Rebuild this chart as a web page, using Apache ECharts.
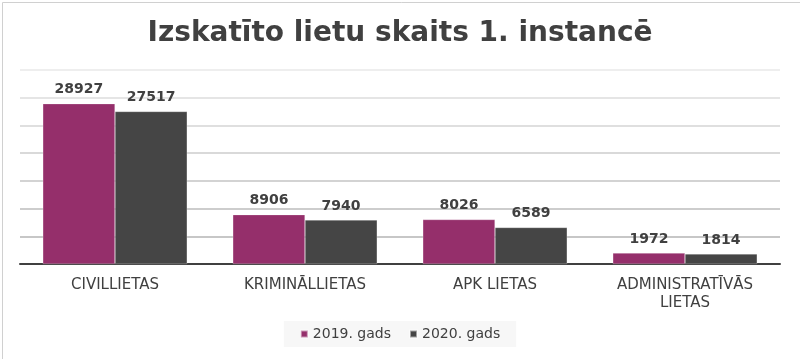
<!DOCTYPE html>
<html>
<head>
<meta charset="utf-8">
<script src="https://cdn.jsdelivr.net/npm/echarts@6/dist/echarts.min.js"></script>
<style>
html,body{margin:0;padding:0;background:#fff;}
#chart{width:800px;height:359px;}
</style>
</head>
<body>
<div id="chart"></div>
<script>
const categories = ['CIVILLIETAS', 'KRIMINĀLLIETAS', 'APK LIETAS', 'ADMINISTRATĪVĀS\nLIETAS'];
const seriesNames = ['2019. gads', '2020. gads'];
const values2019 = [28927, 8906, 8026, 1972];
const values2020 = [27517, 7940, 6589, 1814];
const titleText = 'Izskatīto lietu skaits 1. instancē';

const chart = echarts.init(document.getElementById('chart'), null, {renderer: 'canvas'});
const font = '"DejaVu Sans", Verdana, sans-serif';
const labelStyle = {
  show: true, position: 'top', distance: 7,
  fontFamily: font, fontSize: 14, fontWeight: 'bold', color: '#404040'
};
chart.setOption({
  animation: false,
  backgroundColor: '#fff',
  graphic: [{
    type: 'rect', left: 0, top: 0, z: 100,
    shape: {x: 0.5, y: 0.5, width: 799, height: 358},
    style: {fill: 'none', stroke: '#d0d0d0', lineWidth: 1}
  }],
  title: {
    text: titleText, left: 'center', top: 15,
    textStyle: {fontFamily: font, fontSize: 28, fontWeight: 'bold', color: '#404040'}
  },
  legend: {
    data: seriesNames, bottom: 12, left: 'center',
    itemWidth: 7, itemHeight: 7, itemGap: 18, itemTextGap: 4,
    icon: 'rect',
    backgroundColor: '#f7f7f7', padding: [6, 16],
    textStyle: {fontFamily: font, fontSize: 14, color: '#404040'}
  },
  grid: {left: 20, right: 20, top: 70, bottom: 95, containLabel: false},
  xAxis: {
    type: 'category', data: categories,
    axisLine: {lineStyle: {color: '#404040', width: 2}},
    axisTick: {show: false},
    axisLabel: {fontFamily: font, fontSize: 15, color: '#404040', margin: 12, lineHeight: 18, interval: 0}
  },
  yAxis: {
    type: 'value', min: 0, max: 35000, interval: 5000,
    axisLabel: {show: false}, axisLine: {show: false}, axisTick: {show: false},
    splitLine: {lineStyle: {color: ['#404040', '#b4b4b4', '#bcbcbc', '#c4c4c4', '#cccccc', '#d4d4d4', '#dcdcdc', '#e8e8e8'], width: 1.5}}
  },
  series: [
    {
      name: seriesNames[0], type: 'bar', data: values2019,
      barGap: '0%', barCategoryGap: '24%',
      itemStyle: {color: '#952f6b', borderColor: 'rgba(255,255,255,0.5)', borderWidth: 0.5},
      label: labelStyle
    },
    {
      name: seriesNames[1], type: 'bar', data: values2020,
      itemStyle: {color: '#454545', borderColor: 'rgba(255,255,255,0.5)', borderWidth: 0.5},
      label: labelStyle
    }
  ]
});
</script>
</body>
</html>
